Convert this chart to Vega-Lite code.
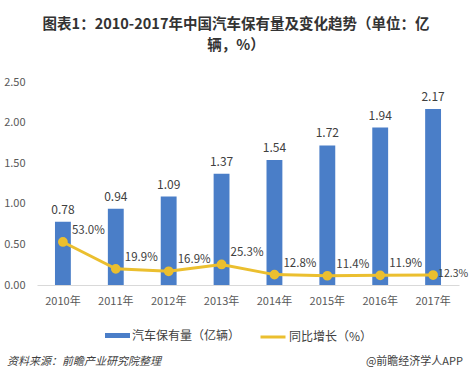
{
  "$schema": "https://vega.github.io/schema/vega-lite/v6.json",
  "width": 422,
  "height": 211,
  "autosize": "none",
  "padding": {"left": 37, "top": 74, "right": 13, "bottom": 94},
  "background": "white",
  "config": {
    "font": "Noto Sans CJK SC",
    "view": {"stroke": null},
    "axis": {"labelFont": "Noto Sans CJK SC", "labelColor": "#595959", "labelFontSize": 11},
    "legend": {"padding": 0}
  },
  "title": {
    "text": ["图表1：2010-2017年中国汽车保有量及变化趋势（单位：亿", "辆，%）"],
    "fontSize": 14.5,
    "fontWeight": "bold",
    "color": "#333333",
    "anchor": "middle",
    "dx": -12,
    "offset": 21,
    "lineHeight": 21,
    "font": "Noto Sans CJK SC"
  },
  "data": {
    "values": [
      {"year": "2010年", "stock": 0.78, "growth": 0.530},
      {"year": "2011年", "stock": 0.94, "growth": 0.199},
      {"year": "2012年", "stock": 1.09, "growth": 0.169},
      {"year": "2013年", "stock": 1.37, "growth": 0.253},
      {"year": "2014年", "stock": 1.54, "growth": 0.128},
      {"year": "2015年", "stock": 1.72, "growth": 0.114},
      {"year": "2016年", "stock": 1.94, "growth": 0.119},
      {"year": "2017年", "stock": 2.17, "growth": 0.123}
    ]
  },
  "encoding": {
    "x": {
      "field": "year", "type": "ordinal", "sort": null,
      "scale": {"paddingInner": 0.7, "paddingOuter": 0.34},
      "axis": {"title": null, "labelAngle": 0, "domainColor": "#d9d9d9", "ticks": false, "labelPadding": 10}
    }
  },
  "layer": [
    {
      "mark": {"type": "bar"},
      "encoding": {
        "y": {
          "field": "stock", "type": "quantitative",
          "scale": {"domain": [0, 2.5]},
          "axis": {"title": null, "values": [0, 0.5, 1, 1.5, 2, 2.5], "format": ".2f", "grid": false, "domain": false, "ticks": false, "labelPadding": 12}
        },
        "fill": {
          "datum": "汽车保有量（亿辆）",
          "scale": {"range": ["#4A7EC8"]},
          "legend": {"orient": "none", "legendX": 68, "legendY": 249, "title": null, "labelFontSize": 12, "labelColor": "#404040", "symbolType": "M-1,-0.2H1V0.2H-1Z", "symbolSize": 625, "labelOffset": 2, "labelFont": "Noto Sans CJK SC", "symbolStrokeWidth": 0}
        }
      }
    },
    {
      "mark": {"type": "text", "dy": -12, "fontSize": 12, "color": "#404040"},
      "encoding": {
        "y": {"field": "stock", "type": "quantitative"},
        "text": {"field": "stock", "type": "quantitative", "format": ".2f"}
      }
    },
    {
      "mark": {"type": "line", "strokeWidth": 3, "point": {"filled": true, "size": 60, "color": "#EBBF2F"}},
      "encoding": {
        "y": {"field": "growth", "type": "quantitative"},
        "stroke": {
          "datum": "同比增长（%）",
          "scale": {"range": ["#EBBF2F"]},
          "legend": {"orient": "none", "legendX": 222, "legendY": 249, "title": null, "labelFontSize": 12, "labelColor": "#404040", "symbolType": "stroke", "symbolSize": 625, "symbolStrokeWidth": 3, "labelOffset": 2, "labelFont": "Noto Sans CJK SC"}
        }
      }
    },
    {
      "transform": [{"filter": "datum.year != '2017年'"}],
      "mark": {"type": "text", "align": "left", "dx": 9, "dy": -11, "fontSize": 11.5, "color": "#404040"},
      "encoding": {
        "y": {"field": "growth", "type": "quantitative"},
        "text": {"field": "growth", "type": "quantitative", "format": ".1%"}
      }
    },
    {
      "transform": [{"filter": "datum.year == '2017年'"}],
      "mark": {"type": "text", "align": "left", "dx": 5, "dy": -1, "fontSize": 10.5, "color": "#404040"},
      "encoding": {
        "y": {"field": "growth", "type": "quantitative"},
        "text": {"field": "growth", "type": "quantitative", "format": ".1%"}
      }
    },
    {
      "data": {"values": [{"t": "资料来源：前瞻产业研究院整理"}]},
      "mark": {"type": "text", "align": "left", "fontSize": 11, "fontStyle": "italic", "color": "#404040"},
      "encoding": {"x": {"value": -30}, "y": {"value": 288}, "text": {"field": "t"}}
    },
    {
      "data": {"values": [{"t": "@前瞻经济学人APP"}]},
      "mark": {"type": "text", "align": "right", "fontSize": 11, "color": "#404040"},
      "encoding": {"x": {"value": 426}, "y": {"value": 288}, "text": {"field": "t"}}
    }
  ]
}
